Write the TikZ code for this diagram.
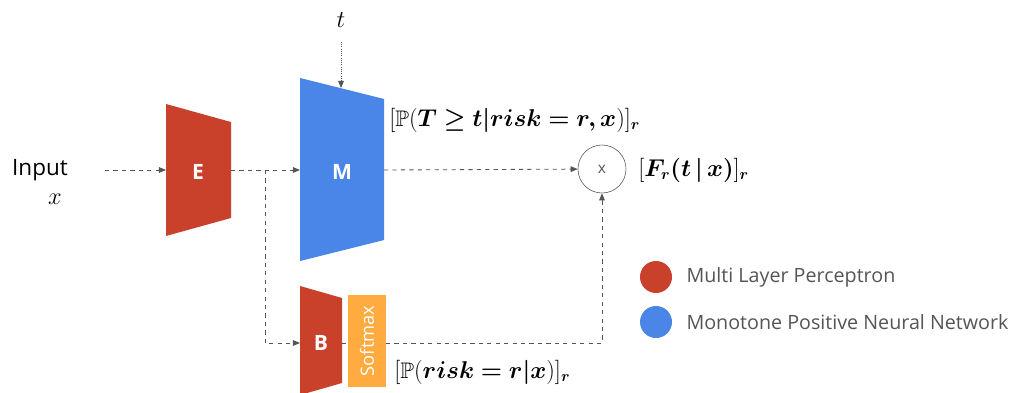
\documentclass[tikz,border=0pt]{standalone}
\usepackage{amssymb}
\usepackage{bm}
\usepackage{fontspec}
\setsansfont{Open Sans}
\usetikzlibrary{arrows.meta,positioning}

\definecolor{mlpred}{HTML}{C9412A}
\definecolor{mpnblue}{HTML}{4A86E8}
\definecolor{smorange}{HTML}{FFAB40}
\definecolor{linegray}{HTML}{555555}
\definecolor{legendgray}{HTML}{555555}

\tikzset{
  flow/.style={dashed, linegray, line width=0.6pt, -{Triangle[length=5pt,width=4pt]}},
  timeflow/.style={densely dotted, linegray, line width=0.6pt, -{Triangle[length=5pt,width=4pt]}},
  netlabel/.style={text=white, font=\sffamily\bfseries\fontsize{15}{17}\selectfont},
  mathlabel/.style={anchor=west, inner sep=0pt, font=\fontsize{16}{18}\selectfont},
  legenddot/.style={circle, minimum size=0.8cm, inner sep=0pt},
  legendtext/.style={right=0.35cm of #1, inner sep=0pt, text=legendgray,
    font=\sffamily\fontsize{14}{16}\selectfont}
}

\begin{document}
\begin{tikzpicture}[x=0.025cm, y=-0.025cm]
  \useasboundingbox (0,0) rectangle (1019,393);

  % input
  \node[font=\sffamily\fontsize{16}{18}\selectfont] (input) at (40,170) {Input};
  \node[font=\fontsize{16}{18}\selectfont] (xin) at (55,199) {$x$};
  \coordinate (in-start) at (105,170);

  % encoder E
  \fill[mlpred] (166,104) -- (231,122) -- (231,218) -- (166,236) -- cycle;
  \node[netlabel] (E) at (198,172) {E};
  \coordinate (E-in) at (166,170);
  \coordinate (E-out) at (231,170);
  \coordinate (split) at (265,170);

  % monotone network M
  \fill[mpnblue] (300,78) -- (384,99) -- (384,240) -- (300,261) -- cycle;
  \node[netlabel] (M) at (342,172) {M};
  \coordinate (M-in) at (300,170);
  \coordinate (M-out) at (384,170);
  \coordinate (M-top) at (341,88);
  \node[font=\fontsize{17}{18}\selectfont] (t) at (341,20) {$t$};
  \coordinate (t-start) at (341,42);

  % risk network B and softmax
  \fill[mlpred] (300,286) -- (342,298) -- (342,383) -- (300,395) -- cycle;
  \node[netlabel] (B) at (321,343) {B};
  \coordinate (B-in) at (300,343);
  \coordinate (B-out) at (342,343);
  \fill[smorange] (348,295) rectangle (386,387);
  \node[rotate=90, text=white, font=\sffamily\fontsize{13}{15}\selectfont] (sm) at (367,341) {Softmax};
  \coordinate (sm-in) at (348,343);
  \coordinate (sm-out) at (386,343);

  % product
  \node[draw=linegray, circle, minimum size=1.2cm, inner sep=0pt, text=linegray,
    font=\sffamily\fontsize{11}{13}\selectfont] (mul) at (602,169) {x};

  % outputs
  \node[mathlabel] (surv) at (389,120) {$[\mathbb{P}(\bm{T \geq t | risk = r, x})]_{\bm{r}}$};
  \node[mathlabel] (cif) at (638,170) {$[\bm{F_r(t\,|\,x)}]_{\bm{r}}$};
  \node[mathlabel] (prob) at (394,372) {$[\mathbb{P}(\bm{risk = r | x})]_{\bm{r}}$};

  % connectors
  \draw[flow] (in-start) -- (E-in);
  \draw[flow] (E-out) -- (M-in);
  \draw[flow] (split) |- (B-in);
  \draw[timeflow] (t-start) -- (M-top);
  \draw[flow] (M-out) -- (mul);
  \draw[dashed, linegray, line width=0.6pt] (B-out) -- (sm-in);
  \draw[flow] (sm-out) -| (mul);

  % legend
  \node[legenddot, fill=mlpred] (dot-mlp) at (656,277) {};
  \node[legendtext=dot-mlp] (txt-mlp) {Multi Layer Perceptron};
  \node[legenddot, fill=mpnblue] (dot-mpn) at (656,322) {};
  \node[legendtext=dot-mpn] (txt-mpn) {Monotone Positive Neural Network};
\end{tikzpicture}
\end{document}
